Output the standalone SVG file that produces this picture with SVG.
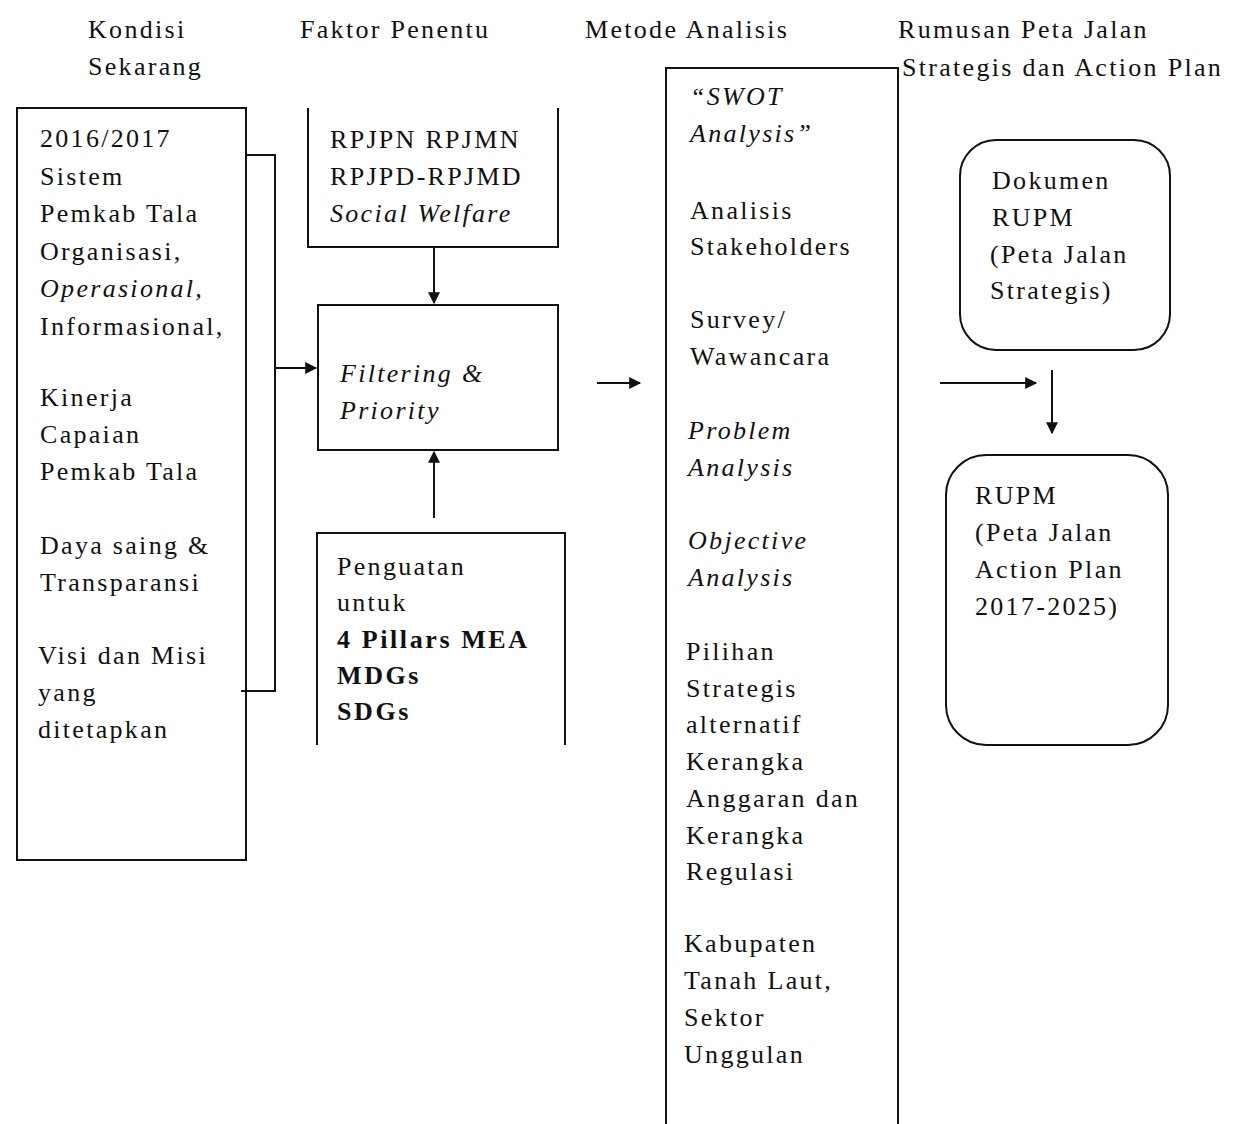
<svg xmlns="http://www.w3.org/2000/svg" width="1246" height="1124" viewBox="0 0 1246 1124">
<style>
  text { font-family: "Liberation Serif", "Times New Roman", serif; font-size: 26px; fill: #111; letter-spacing: 2.3px; }
  .it { font-style: italic; }
  .b { font-weight: bold; letter-spacing: 2.6px; }
  .ln { fill: none; stroke: #111; stroke-width: 2; }
</style>
<defs>
  <marker id="ah" viewBox="0 0 10 10" refX="9" refY="5" markerWidth="13" markerHeight="12" markerUnits="userSpaceOnUse" orient="auto">
    <path d="M0,0 L10,5 L0,10 z" fill="#111"/>
  </marker>
</defs>
<rect width="1246" height="1124" fill="#fff"/>

<g id="headers">
  <text x="88" y="38">Kondisi</text>
  <text x="88" y="75">Sekarang</text>
  <text x="300" y="38">Faktor Penentu</text>
  <text x="585" y="38">Metode Analisis</text>
  <text x="898" y="38">Rumusan Peta Jalan</text>
  <text x="902" y="76">Strategis dan Action Plan</text>
</g>

<g id="kondisi">
  <rect class="ln" x="17" y="108" width="229" height="752"/>
  <text x="40" y="147">2016/2017</text>
  <text x="40" y="185">Sistem</text>
  <text x="40" y="222">Pemkab Tala</text>
  <text x="40" y="260">Organisasi,</text>
  <text x="40" y="297" class="it">Operasional,</text>
  <text x="40" y="335">Informasional,</text>
  <text x="40" y="406">Kinerja</text>
  <text x="40" y="443">Capaian</text>
  <text x="40" y="480">Pemkab Tala</text>
  <text x="40" y="554">Daya saing &amp;</text>
  <text x="40" y="591">Transparansi</text>
  <text x="38" y="664">Visi dan Misi</text>
  <text x="38" y="701">yang</text>
  <text x="38" y="738">ditetapkan</text>
</g>

<g id="rpjpn">
  <path class="ln" d="M308,108 V247 H558 V108"/>
  <text x="330" y="148">RPJPN RPJMN</text>
  <text x="330" y="185">RPJPD-RPJMD</text>
  <text x="330" y="222" class="it">Social Welfare</text>
</g>

<g id="filtering">
  <rect class="ln" x="318" y="305" width="240" height="145"/>
  <text x="340" y="382" class="it">Filtering &amp;</text>
  <text x="340" y="419" class="it">Priority</text>
</g>

<g id="penguatan">
  <path class="ln" d="M317,745 V533 H565 V745"/>
  <text x="337" y="575">Penguatan</text>
  <text x="337" y="611">untuk</text>
  <text x="337" y="648" class="b">4 Pillars MEA</text>
  <text x="337" y="684" class="b">MDGs</text>
  <text x="337" y="720" class="b">SDGs</text>
</g>

<g id="metode">
  <path class="ln" d="M666,1124 V68 H898 V1124"/>
  <text x="690" y="105" class="it">“SWOT</text>
  <text x="690" y="142" class="it">Analysis”</text>
  <text x="690" y="219">Analisis</text>
  <text x="690" y="255">Stakeholders</text>
  <text x="690" y="328">Survey/</text>
  <text x="690" y="365">Wawancara</text>
  <text x="688" y="439" class="it">Problem</text>
  <text x="688" y="476" class="it">Analysis</text>
  <text x="688" y="549" class="it">Objective</text>
  <text x="688" y="586" class="it">Analysis</text>
  <text x="686" y="660">Pilihan</text>
  <text x="686" y="697">Strategis</text>
  <text x="686" y="733">alternatif</text>
  <text x="686" y="770">Kerangka</text>
  <text x="686" y="807">Anggaran dan</text>
  <text x="686" y="844">Kerangka</text>
  <text x="686" y="880">Regulasi</text>
  <text x="684" y="952">Kabupaten</text>
  <text x="684" y="989">Tanah Laut,</text>
  <text x="684" y="1026">Sektor</text>
  <text x="684" y="1063">Unggulan</text>
</g>

<g id="dokumen">
  <rect class="ln" x="960" y="140" width="210" height="210" rx="36"/>
  <text x="992" y="189">Dokumen</text>
  <text x="992" y="226">RUPM</text>
  <text x="990" y="263">(Peta Jalan</text>
  <text x="990" y="299">Strategis)</text>
</g>

<g id="rupm">
  <rect class="ln" x="946" y="455" width="222" height="290" rx="40"/>
  <text x="975" y="504">RUPM</text>
  <text x="975" y="541">(Peta Jalan</text>
  <text x="975" y="578">Action Plan</text>
  <text x="975" y="615">2017-2025)</text>
</g>

<g id="connectors">
  <path class="ln" d="M246,155 H275 V691 H241"/>
  <path class="ln" d="M275,368 H316" marker-end="url(#ah)"/>
  <path class="ln" d="M434,247 V303" marker-end="url(#ah)"/>
  <path class="ln" d="M434,518 V452" marker-end="url(#ah)"/>
  <path class="ln" d="M597,383 H640" marker-end="url(#ah)"/>
  <path class="ln" d="M940,383 H1036" marker-end="url(#ah)"/>
  <path class="ln" d="M1052,370 V433" marker-end="url(#ah)"/>
</g>
</svg>
